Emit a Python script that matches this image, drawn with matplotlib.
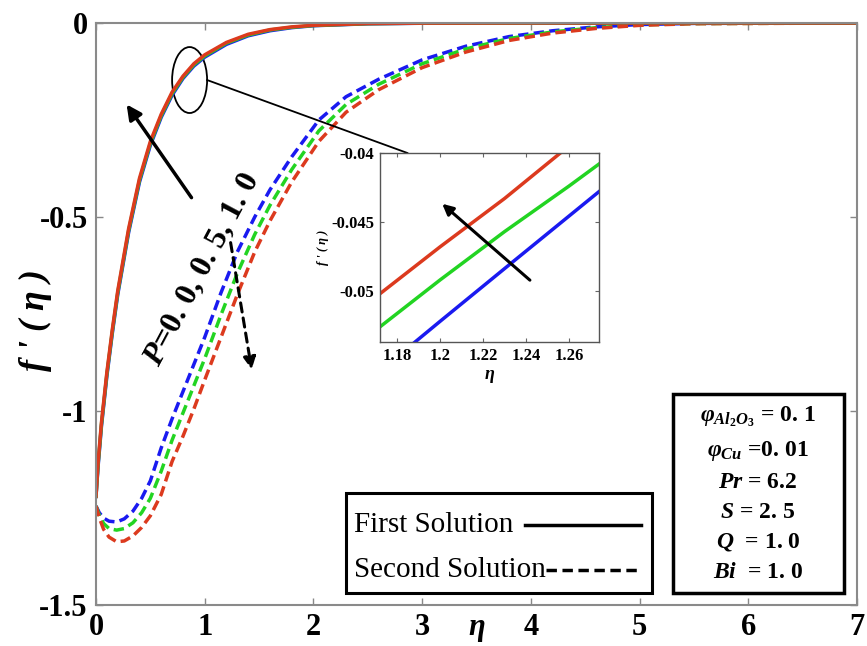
import numpy as np
import matplotlib
matplotlib.use('Agg')
import matplotlib.pyplot as plt
from matplotlib.patches import Ellipse, Rectangle
from matplotlib.lines import Line2D
import matplotlib.transforms as mtransforms

plt.rcParams['font.family'] = ['Liberation Serif', 'DejaVu Serif']
plt.rcParams['mathtext.fontset'] = 'custom'
plt.rcParams['mathtext.rm'] = 'Liberation Serif:bold'
plt.rcParams['mathtext.it'] = 'Liberation Serif:italic:bold'
plt.rcParams['mathtext.bf'] = 'Liberation Serif:bold'
plt.rcParams['axes.unicode_minus'] = False

# ---------------- data ----------------
p_values = ['0.0', '0.5', '1.0']
colors = ['#1a1af0', '#22d422', '#dc3a1e']

eta_first = [0, 0.02, 0.05, 0.1, 0.15, 0.2, 0.3, 0.4, 0.5, 0.6, 0.7, 0.8, 0.9,
             1.0, 1.2, 1.4, 1.6, 1.8, 2.0, 2.5, 3.0, 4.0, 7.0]
f_first_p0 = [-1.22, -1.14, -1.04, -0.91, -0.80, -0.70, -0.54, -0.41, -0.315, -0.243,
              -0.186, -0.143, -0.111, -0.088, -0.055, -0.033, -0.020, -0.012, -0.007,
              -0.002, -0.0006, 0, 0]
f_first_p05 = [-1.22, -1.135, -1.035, -0.905, -0.795, -0.695, -0.535, -0.405, -0.31, -0.239,
               -0.182, -0.140, -0.108, -0.085, -0.052, -0.031, -0.018, -0.011, -0.0065,
               -0.0017, -0.0005, 0, 0]
f_first_p1 = [-1.22, -1.13, -1.03, -0.90, -0.79, -0.69, -0.53, -0.40, -0.305, -0.235,
              -0.178, -0.137, -0.105, -0.082, -0.050, -0.029, -0.017, -0.010, -0.006,
              -0.0015, -0.0004, 0, 0]

eta_second = [0, 0.03, 0.07, 0.12, 0.19, 0.26, 0.34, 0.42, 0.5, 0.6, 0.7, 0.8, 0.9, 1.0,
              1.15, 1.3, 1.46, 1.6, 1.8, 2.05, 2.3, 2.6, 3.0, 3.4, 3.8, 4.2, 4.6, 5.0, 5.5, 7.0]
f_second_p0 = [-1.245, -1.262, -1.276, -1.284, -1.286, -1.278, -1.258, -1.225, -1.18, -1.095,
               -1.02, -0.95, -0.88, -0.81, -0.695, -0.59, -0.50, -0.43, -0.345, -0.25,
               -0.19, -0.145, -0.095, -0.06, -0.035, -0.02, -0.01, -0.004, -0.001, 0]
f_second_p05 = [-1.245, -1.268, -1.29, -1.303, -1.307, -1.303, -1.288, -1.262, -1.225, -1.155,
                -1.075, -1.005, -0.935, -0.865, -0.752, -0.645, -0.545, -0.47, -0.378, -0.278,
                -0.21, -0.158, -0.105, -0.067, -0.04, -0.023, -0.012, -0.005, -0.0014, 0]
f_second_p1 = [-1.245, -1.275, -1.305, -1.325, -1.337, -1.335, -1.322, -1.30, -1.27, -1.215,
               -1.13, -1.065, -0.995, -0.92, -0.81, -0.70, -0.59, -0.51, -0.41, -0.305,
               -0.23, -0.172, -0.115, -0.075, -0.045, -0.026, -0.014, -0.006, -0.0018, 0]

# inset (zoom of first solution)
eta_zoom_p0 = [1.172, 1.20, 1.233, 1.274]
f_zoom_p0 = [-0.0558, -0.0522, -0.0480, -0.0428]
eta_zoom_p05 = [1.172, 1.20, 1.23, 1.26, 1.274]
f_zoom_p05 = [-0.0526, -0.0492, -0.0457, -0.0424, -0.0408]
eta_zoom_p1 = [1.172, 1.20, 1.23, 1.256, 1.274]
f_zoom_p1 = [-0.0502, -0.0468, -0.0433, -0.0400, -0.0378]

x_ticks = [0, 1, 2, 3, 4, 5, 6, 7]
y_ticks = [-1.5, -1, -0.5, 0]
y_ticklabels = ['-1.5', '-1', '-0.5', '0']
inset_xticks = [1.18, 1.2, 1.22, 1.24, 1.26]
inset_xticklabels = ['1.18', '1.2', '1.22', '1.24', '1.26']
inset_yticks = [-0.05, -0.045, -0.04]
inset_yticklabels = ['-0.05', '-0.045', '-0.04']

legend_labels = ['First Solution', 'Second Solution']
params = [r'$\varphi_{Al_2O_3}$ = 0. 1', r'$\varphi_{Cu}$ =0. 01', r'$Pr$ = 6.2',
          r'$S$ = 2. 5', r'$Q$  = 1. 0', r'$Bi$  = 1. 0']

# ---------------- figure ----------------
W, H = 867, 646
fig = plt.figure(figsize=(W / 100, H / 100), dpi=100)

def fx(px):
    return px / W

def fy(py):
    return 1 - py / H

ax = fig.add_axes([fx(96), fy(605), fx(857) - fx(96), fy(23) - fy(605)])

firsts = [f_first_p0, f_first_p05, f_first_p1]
seconds = [f_second_p0, f_second_p05, f_second_p1]
for c, fs in zip(colors, seconds):
    ax.plot(eta_second, fs, color=c, lw=2.5, dashes=(3, 1.5))
for c, fs in zip(colors, firsts):
    ax.plot(eta_first, fs, color=c, lw=2.5)

ax.set_xlim(0, 7)
ax.set_ylim(-1.5, 0)
ax.set_xticks(x_ticks)
ax.set_xticklabels([str(v) for v in x_ticks])
ax.set_yticks(y_ticks)
ax.set_yticklabels(y_ticklabels)
ax.tick_params(direction='in', length=5, width=1, color='#888888', top=True, right=True,
               labelsize=22, pad=6)
for lab in ax.get_xticklabels() + ax.get_yticklabels():
    lab.set_fontweight('bold')
for sp in ax.spines.values():
    sp.set_color('#8a8a8a')
    sp.set_linewidth(1.5)

# x label inline with tick labels
trans = mtransforms.blended_transform_factory(ax.transData, ax.transAxes)
ax.text(3.5, -0.038, 'η', transform=trans, ha='center', va='center',
        fontsize=22, fontstyle='italic', fontweight='bold')
fig.text(fx(35), fy(320), "f ' ( η )", rotation=90, ha='center', va='center',
         fontsize=26, fontstyle='italic', fontweight='bold')

# annotations
ax.add_patch(Ellipse((0.861, -0.147), 0.322, 0.170, fill=False, ec='black', lw=1.3))
ax.plot([1.022, 2.864], [-0.147, -0.335], color='black', lw=1.3)
ax.annotate('', xy=(0.267, -0.204), xytext=(0.893, -0.456),
            arrowprops=dict(arrowstyle='-|>', color='black', lw=2.5,
                            mutation_scale=22))
ax.annotate('', xy=(1.436, -0.90), xytext=(1.234, -0.559),
            arrowprops=dict(arrowstyle='-|>', color='black', lw=2.2, ls=(0, (3, 2)),
                            mutation_scale=18))
fig.text(fx(203), fy(270), r'$P$=0. 0, 0. 5, 1. 0', rotation=62, ha='center', va='center',
         fontsize=23, fontweight='bold', rotation_mode='anchor')

# legend (drawn as a framed box)
fig.patches.append(Rectangle((fx(346), fy(593)), fx(652) - fx(346), fy(493) - fy(593),
                             transform=fig.transFigure, fill=False, ec='black', lw=2.2))
fig.text(fx(354), fy(525), legend_labels[0], ha='left', va='center', fontsize=21)
fig.text(fx(354), fy(570), legend_labels[1], ha='left', va='center', fontsize=21)
fig.lines.append(Line2D([fx(525), fx(641)], [fy(525), fy(525)], transform=fig.transFigure,
                        color='black', lw=2.5))
fig.lines.append(Line2D([fx(546), fx(641)], [fy(570), fy(570)], transform=fig.transFigure,
                        color='black', lw=2.5, dashes=(3, 1.6)))

# parameter box
fig.patches.append(Rectangle((fx(673), fy(593)), fx(844) - fx(673), fy(394) - fy(593),
                             transform=fig.transFigure, fill=False, ec='black', lw=2.5))
line_y = [417, 451, 482, 512, 542, 572]
for t, yy in zip(params, line_y):
    fig.text(fx(758), fy(yy), t, ha='center', va='center', fontsize=17, fontweight='bold')

# inset
axi = fig.add_axes([fx(380), fy(342), fx(599) - fx(380), fy(153) - fy(342)])
axi.plot(eta_zoom_p0, f_zoom_p0, color=colors[0], lw=2.5)
axi.plot(eta_zoom_p05, f_zoom_p05, color=colors[1], lw=2.5)
axi.plot(eta_zoom_p1, f_zoom_p1, color=colors[2], lw=2.5)
axi.set_xlim(1.172, 1.274)
axi.set_ylim(-0.0537, -0.04)
axi.set_xticks(inset_xticks)
axi.set_xticklabels(inset_xticklabels)
axi.set_yticks(inset_yticks)
axi.set_yticklabels(inset_yticklabels)
axi.tick_params(direction='in', length=3, width=0.8, color='#666666', top=True, right=True,
                labelsize=12, pad=4)
for lab in axi.get_xticklabels() + axi.get_yticklabels():
    lab.set_fontweight('bold')
for sp in axi.spines.values():
    sp.set_color('#555555')
    sp.set_linewidth(1.0)
axi.set_xlabel('η', fontsize=13, fontstyle='italic', fontweight='bold', labelpad=2)
axi.set_ylabel("f ' ( η )", fontsize=9, fontstyle='italic', fontweight='bold', labelpad=2)
axi.annotate('', xy=(1.2, -0.04355), xytext=(1.2428, -0.04935),
             arrowprops=dict(arrowstyle='-|>', color='black', lw=2.2, mutation_scale=16))

fig.savefig('out.png', dpi=100)
